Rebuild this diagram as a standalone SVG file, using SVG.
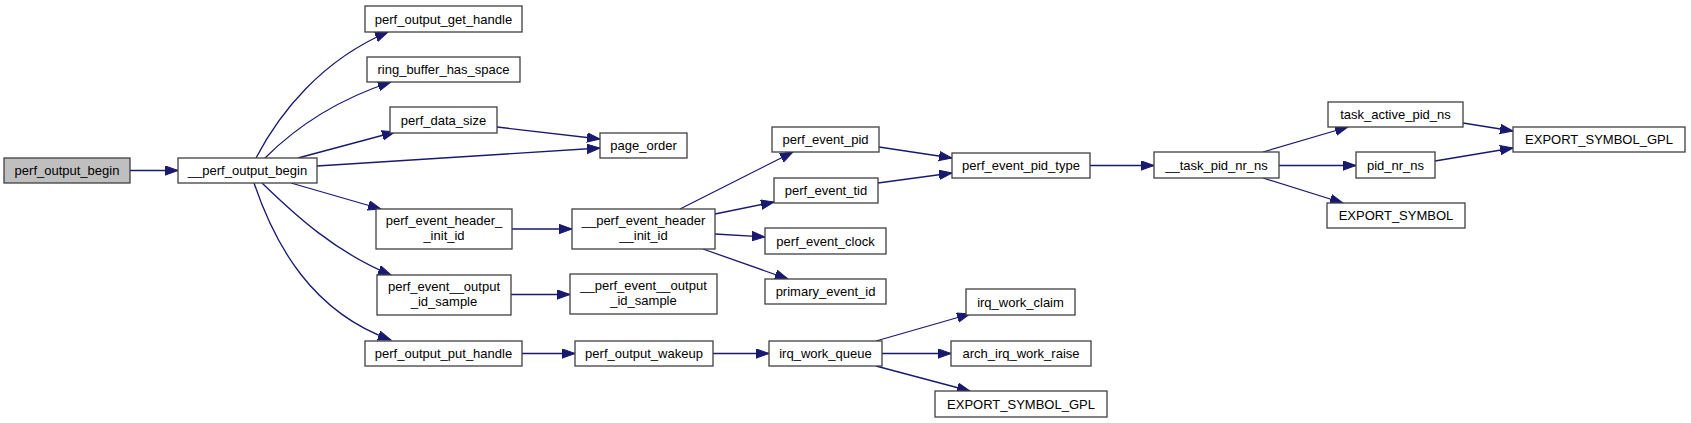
<svg xmlns="http://www.w3.org/2000/svg" width="1691" height="423" viewBox="0 0 1691 423">
<style>
.n rect{fill:#ffffff;stroke:#404040;stroke-width:1.3}
.n.m rect{fill:#bfbfbf}
.n text{font-family:"Liberation Sans",Arial,sans-serif;font-size:13px;fill:#000;text-anchor:middle}
.e path{fill:none;stroke:#191970;stroke-width:1.3;marker-end:url(#ah)}
</style>
<defs>
<marker id="ah" markerUnits="userSpaceOnUse" markerWidth="15" markerHeight="11" refX="13" refY="5" orient="auto">
<path d="M0,0.3 L13,5 L0,9.7 z" fill="#191970" stroke="#191970" stroke-width="1"/>
</marker>
</defs>
<rect width="1691" height="423" fill="#ffffff"/>
<g class="e" id="edges">
<path d="M130,170.5 L178,170.5"/>
<path d="M256,158 C280,112 322,60 388,32"/>
<path d="M265,158 C295,128 336,100 391,82"/>
<path d="M298,158 L395,132"/>
<path d="M317,166 L600,148"/>
<path d="M497,127 L600,139"/>
<path d="M291,183 L381,209"/>
<path d="M262,183 C295,215 335,252 391,275"/>
<path d="M254,183 C275,245 312,312 391,340"/>
<path d="M512,229 L572,229"/>
<path d="M511,294.5 L570,294.5"/>
<path d="M522,353.5 L575,353.5"/>
<path d="M680,209 L793,152"/>
<path d="M715,214 L774,202"/>
<path d="M715,234 L765,237"/>
<path d="M703,249 L788,279"/>
<path d="M879,147 L952,158"/>
<path d="M878,183 L952,173"/>
<path d="M713,353.5 L769,353.5"/>
<path d="M876,341 L970,314"/>
<path d="M882,353.5 L951,353.5"/>
<path d="M876,366 L970,391"/>
<path d="M1090,165.5 L1154,165.5"/>
<path d="M1263,152 L1348,127"/>
<path d="M1279,165.5 L1356,165.5"/>
<path d="M1263,178 L1343,203"/>
<path d="M1463,123 L1513,131"/>
<path d="M1435,161 L1513,148"/>
</g>
<g class="n m" id="perf_output_begin"><rect x="4" y="158" width="126" height="25"/><text x="67" y="175">perf_output_begin</text></g>
<g class="n" id="__perf_output_begin"><rect x="178" y="158" width="139" height="25"/><text x="247.5" y="175">__perf_output_begin</text></g>
<g class="n" id="perf_output_get_handle"><rect x="365" y="6" width="157" height="26"/><text x="443.5" y="23.5">perf_output_get_handle</text></g>
<g class="n" id="ring_buffer_has_space"><rect x="367" y="57" width="153" height="25"/><text x="443.5" y="74">ring_buffer_has_space</text></g>
<g class="n" id="perf_data_size"><rect x="390" y="107" width="107" height="26"/><text x="443.5" y="124.5">perf_data_size</text></g>
<g class="n" id="page_order"><rect x="600" y="133" width="87" height="25"/><text x="643.5" y="150">page_order</text></g>
<g class="n" id="perf_event_header_init_id"><rect x="376" y="209" width="136" height="40"/><text x="444" y="224.5">perf_event_header_</text><text x="444" y="240">_init_id</text></g>
<g class="n" id="perf_event__output_id_sample"><rect x="377" y="275" width="134" height="40"/><text x="444" y="290.5">perf_event__output</text><text x="444" y="306">_id_sample</text></g>
<g class="n" id="perf_output_put_handle"><rect x="365" y="341" width="157" height="25"/><text x="443.5" y="358">perf_output_put_handle</text></g>
<g class="n" id="__perf_event_header__init_id"><rect x="572" y="209" width="143" height="40"/><text x="643.5" y="224.5">__perf_event_header</text><text x="643.5" y="240">__init_id</text></g>
<g class="n" id="__perf_event__output_id_sample"><rect x="570" y="274" width="147" height="40"/><text x="643.5" y="289.5">__perf_event__output</text><text x="643.5" y="305">_id_sample</text></g>
<g class="n" id="perf_output_wakeup"><rect x="575" y="341" width="138" height="25"/><text x="644" y="358">perf_output_wakeup</text></g>
<g class="n" id="perf_event_pid"><rect x="772" y="127" width="107" height="25"/><text x="825.5" y="144">perf_event_pid</text></g>
<g class="n" id="perf_event_tid"><rect x="774" y="178" width="104" height="25"/><text x="826" y="195">perf_event_tid</text></g>
<g class="n" id="perf_event_clock"><rect x="765" y="228" width="121" height="26"/><text x="825.5" y="245.5">perf_event_clock</text></g>
<g class="n" id="primary_event_id"><rect x="765" y="279" width="121" height="25"/><text x="825.5" y="296">primary_event_id</text></g>
<g class="n" id="irq_work_queue"><rect x="769" y="341" width="113" height="25"/><text x="825.5" y="358">irq_work_queue</text></g>
<g class="n" id="perf_event_pid_type"><rect x="952" y="153" width="138" height="25"/><text x="1021" y="170">perf_event_pid_type</text></g>
<g class="n" id="irq_work_claim"><rect x="966" y="289" width="109" height="26"/><text x="1020.5" y="306.5">irq_work_claim</text></g>
<g class="n" id="arch_irq_work_raise"><rect x="951" y="341" width="140" height="25"/><text x="1021" y="358">arch_irq_work_raise</text></g>
<g class="n" id="EXPORT_SYMBOL_GPL_2"><rect x="935" y="391" width="172" height="26"/><text x="1021" y="408.5">EXPORT_SYMBOL_GPL</text></g>
<g class="n" id="__task_pid_nr_ns"><rect x="1154" y="152" width="125" height="26"/><text x="1216.5" y="169.5">__task_pid_nr_ns</text></g>
<g class="n" id="task_active_pid_ns"><rect x="1328" y="102" width="135" height="25"/><text x="1395.5" y="119">task_active_pid_ns</text></g>
<g class="n" id="pid_nr_ns"><rect x="1356" y="152" width="79" height="26"/><text x="1395.5" y="169.5">pid_nr_ns</text></g>
<g class="n" id="EXPORT_SYMBOL"><rect x="1327" y="203" width="138" height="25"/><text x="1396" y="220">EXPORT_SYMBOL</text></g>
<g class="n" id="EXPORT_SYMBOL_GPL"><rect x="1513" y="127" width="172" height="25"/><text x="1599" y="144">EXPORT_SYMBOL_GPL</text></g>
</svg>
